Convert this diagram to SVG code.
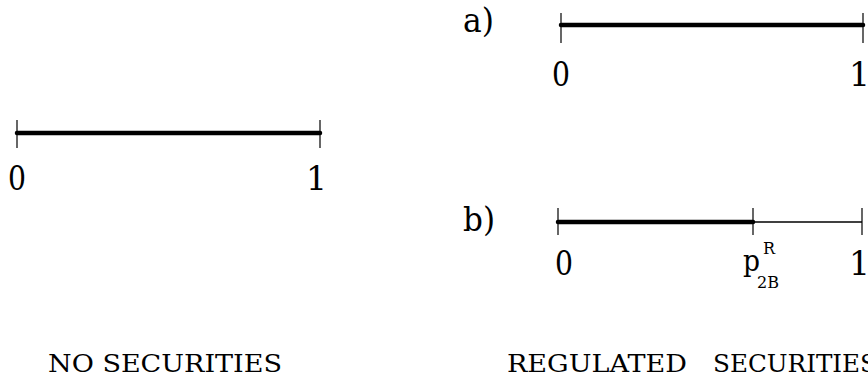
<svg xmlns="http://www.w3.org/2000/svg" width="868" height="379" viewBox="0 0 868 379">
<style>
text{font-family:"DejaVu Serif",serif;fill:#000}
.num{font-size:33px}
.lab{font-size:24px}
.sup{font-size:16px}
.thick{stroke:#000;stroke-width:4.5;stroke-linecap:round;fill:none}
.thin{stroke:#000;stroke-width:1.3;fill:none}
.tick{stroke:#000;stroke-width:1.2;fill:none}
</style>
<rect width="868" height="379" fill="#fff"/>
<g id="left">
<line class="tick" x1="17" y1="120" x2="17" y2="148"/>
<line class="tick" x1="320" y1="120" x2="320" y2="148"/>
<line class="thick" x1="17" y1="133" x2="320" y2="133"/>
<text class="num" x="8" y="190" textLength="18" lengthAdjust="spacingAndGlyphs">0</text>
<text class="num" x="306" y="190">1</text>
<text class="lab" x="48" y="372" textLength="234" lengthAdjust="spacingAndGlyphs">NO SECURITIES</text>
</g>
<g id="a">
<text class="num" x="463" y="32" textLength="31" lengthAdjust="spacingAndGlyphs">a)</text>
<line class="tick" x1="561" y1="13" x2="561" y2="43"/>
<line class="tick" x1="863" y1="13" x2="863" y2="43"/>
<line class="thick" x1="561" y1="25" x2="863" y2="25"/>
<text class="num" x="552" y="86" textLength="18" lengthAdjust="spacingAndGlyphs">0</text>
<text class="num" x="849" y="86">1</text>
</g>
<g id="b">
<text class="num" x="463" y="231" textLength="32" lengthAdjust="spacingAndGlyphs">b)</text>
<line class="tick" x1="558" y1="208" x2="558" y2="235"/>
<line class="tick" x1="753" y1="208" x2="753" y2="235"/>
<line class="tick" x1="862" y1="208" x2="862" y2="235"/>
<line class="thin" x1="753" y1="222" x2="862" y2="222"/>
<line class="thick" x1="558" y1="222" x2="753" y2="222"/>
<text class="num" x="555" y="275" textLength="18" lengthAdjust="spacingAndGlyphs">0</text>
<text x="743" y="271" font-size="30" textLength="17" lengthAdjust="spacingAndGlyphs">p</text>
<text class="sup" x="763" y="254">R</text>
<text class="sup" x="757" y="288" textLength="22" lengthAdjust="spacingAndGlyphs">2B</text>
<text class="num" x="849" y="275">1</text>
<text class="lab" x="507" y="372" textLength="180" lengthAdjust="spacingAndGlyphs">REGULATED</text>
<text class="lab" x="713" y="372" textLength="164" lengthAdjust="spacingAndGlyphs">SECURITIES</text>
</g>
</svg>
